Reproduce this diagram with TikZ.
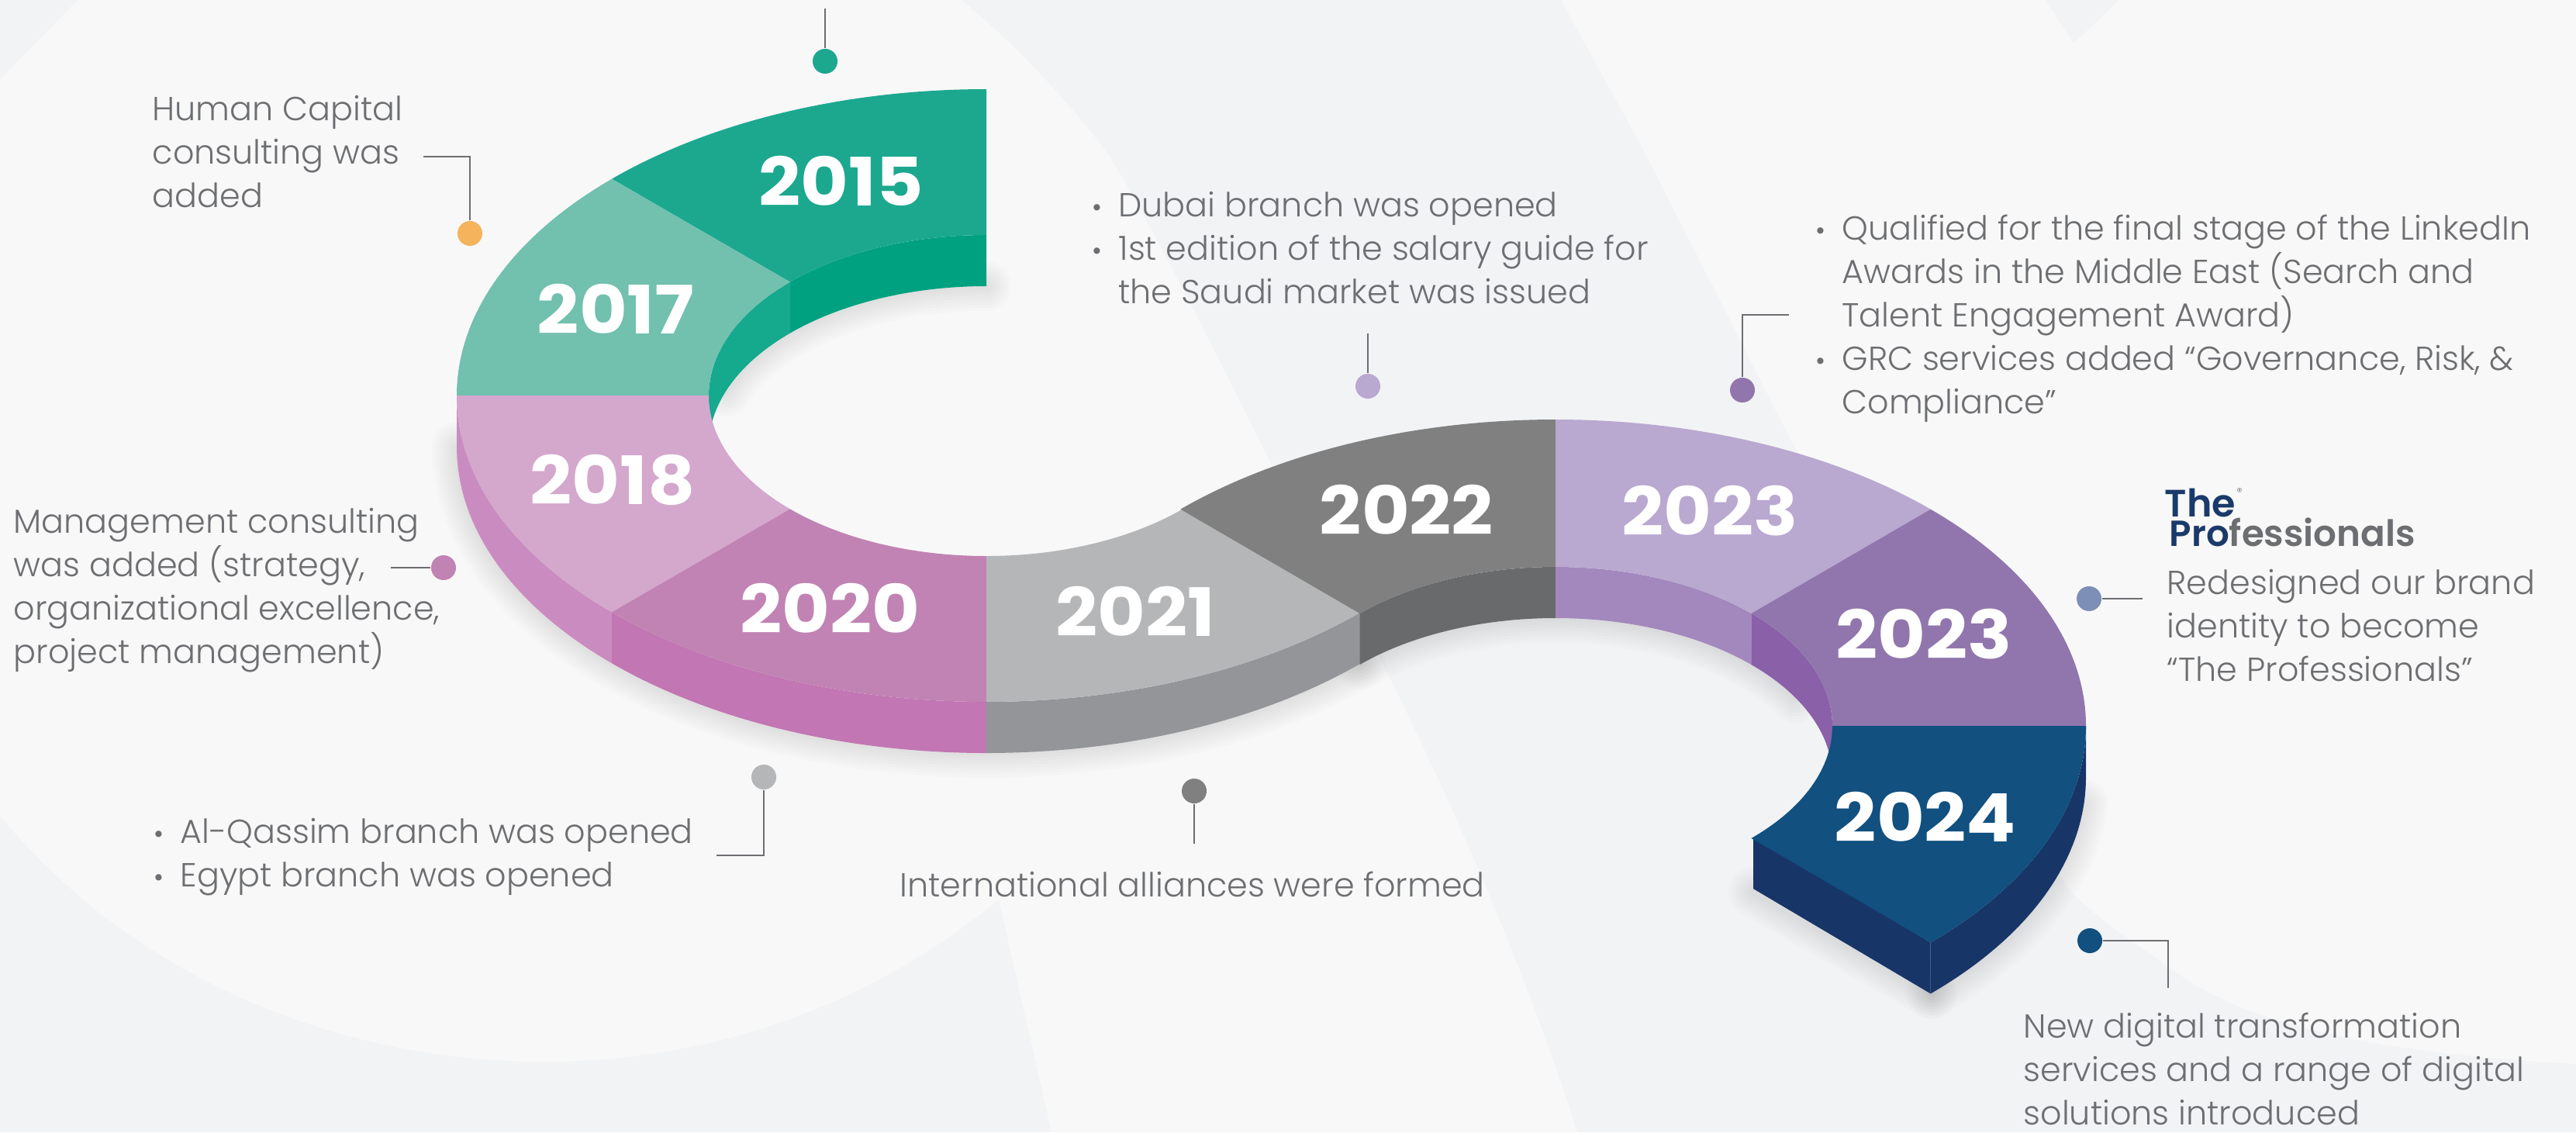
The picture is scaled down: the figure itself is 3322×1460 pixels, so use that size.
\documentclass[tikz,border=0pt]{standalone}
\usepackage{fontspec}
\setmainfont{Poppins Light}[BoldFont=Poppins Bold]
\newfontfamily\logofont{Poppins SemiBold}
\newfontfamily\yearfont{Poppins Bold}[FakeStretch=1.1]
\definecolor{bgdark}{HTML}{F2F3F5}
\definecolor{bglight}{HTML}{F8F8F8}
\definecolor{txt}{HTML}{6D6E71}
\definecolor{navy}{HTML}{1A3A6B}
\definecolor{ctA}{HTML}{1BA88F}\definecolor{cwA}{HTML}{00A180}
\definecolor{ctB}{HTML}{72C0AE}\definecolor{cwB}{HTML}{15A98E}
\definecolor{ctC}{HTML}{D4A7CD}\definecolor{cwC}{HTML}{CA8CC0}
\definecolor{ctD}{HTML}{C183B3}\definecolor{cwD}{HTML}{C276B3}
\definecolor{ctE}{HTML}{B5B6B8}\definecolor{cwE}{HTML}{939598}
\definecolor{ctF}{HTML}{808080}\definecolor{cwF}{HTML}{686A6C}
\definecolor{ctG}{HTML}{B9A8D0}\definecolor{cwG}{HTML}{A288BD}
\definecolor{ctH}{HTML}{9176AD}\definecolor{cwH}{HTML}{8A60A9}
\definecolor{ctI}{HTML}{11507F}\definecolor{cwI}{HTML}{183568}
\definecolor{dotY}{HTML}{F5B35B}
\definecolor{dotB}{HTML}{7D8FB7}
\newcommand\seg[9]{\fill[#1] ({#2+#4*cos(#6)},{#3+#5*sin(#6)}) arc[x radius=#4,y radius=#5,start angle=#6,end angle=#7] -- ({#2+#8*cos(#7)},{#3+#9*sin(#7)}) arc[x radius=#8,y radius=#9,start angle=#7,end angle=#6] -- cycle;}
\newcommand\wall[7]{\fill[#1] ({#2+#4*cos(#6)},{#3+#5*sin(#6)}) arc[x radius=#4,y radius=#5,start angle=#6,end angle=#7] -- ({#2+#4*cos(#7)},{#3+66+#5*sin(#7)}) arc[x radius=#4,y radius=#5,start angle=#7,end angle=#6] -- cycle;}
\newcommand\Ltop[3]{\seg{#1}{1272}{510}{683}{395}{#2}{#3}{358}{207}}
\newcommand\Rtop[3]{\seg{#1}{2006}{936}{684}{395}{#2}{#3}{357}{205}}
\newcommand\fs{\rule{0pt}{11.38pt}}
\newcommand\bul{\makebox[9.6pt][l]{\fontsize{10}{10}\selectfont •}}
\newcommand\ind{\hspace*{9.6pt}}
\tikzset{
 x=0.01cm,y=-0.01cm,
 year/.style={text=white,font=\yearfont\fontsize{24.5}{24.5}\selectfont,inner sep=0pt},
 note/.style={text=txt,font=\fontsize{12.2}{15.93}\selectfont,align=left,inner sep=0pt,anchor=north west},
 leader/.style={draw=txt,line width=0.8pt},
 dot/.style={circle,fill=#1,inner sep=0pt,minimum size=0.32cm},
 softshade/.style={draw=black,draw opacity=0.012,line cap=round},
}
\begin{document}
\begin{tikzpicture}
\useasboundingbox (0,0) rectangle (3322,1460);
\fill[bgdark] (0,0) rectangle (3322,1460);
% lighter background shapes
\fill[bglight] (100,0) -- (0,103) -- (0,1052)
  .. controls (180,1270) and (450,1369) .. (700,1369)
  .. controls (930,1369) and (1130,1290) .. (1288,1160)
  -- (1356,1460) -- (2034,1460) .. controls (1920,1100) and (1720,720) .. (1640,600)
  .. controls (1560,440) and (1480,280) .. (1430,200) .. controls (1370,120) and (1300,50) .. (1240,0) -- cycle;
\fill[bglight] (2013,0) -- (2638,0) -- (2674,56) -- (2733,0) -- (3322,0) -- (3322,1372)
  .. controls (3100,1360) and (2920,1330) .. (2815,1260) .. controls (2760,1220) and (2710,1190) .. (2668,1147)
  -- (2311,571) -- (2123,200) -- cycle;
% soft shadows under the ribbon
\foreach \w in {8,16,...,64}{
  \draw[softshade,line width=\w*0.01cm] ({1272+683*cos(45)},{510+66+395*sin(45)}) arc[x radius=683,y radius=395,start angle=45,end angle=180];
  \draw[softshade,line width=\w*0.01cm] ({2006+357*cos(225)},{936+66+205*sin(225)}) arc[x radius=357,y radius=205,start angle=225,end angle=330];
  \draw[softshade,line width=\w*0.01cm] ({1272+358*cos(200)},{510+66+207*sin(200)}) arc[x radius=358,y radius=207,start angle=200,end angle=270];
  \draw[softshade,line width=\w*0.01cm] (2261,1150) -- (2492,1282);
  \draw[softshade,line width=\w*0.01cm] ({2006+684*cos(45)},{936+66+395*sin(45)}) arc[x radius=684,y radius=395,start angle=45,end angle=5];
}
% inner and outer walls
\wall{cwA}{1272}{510}{358}{207}{225}{270}
\wall{cwB}{1272}{510}{358}{207}{180}{225}
\wall{cwC}{1272}{510}{683}{395}{135}{180}
\wall{cwD}{1272}{510}{683}{395}{90}{135}
\wall{cwE}{1272}{510}{683}{395}{45}{90}
\wall{cwF}{2006}{936}{357}{205}{225}{270}
\wall{cwG}{2006}{936}{357}{205}{270}{315}
\wall{cwH}{2006}{936}{357}{205}{315}{360}
\wall{cwI}{2006}{936}{684}{395}{0}{45}
\fill[cwI] (2261,1080) -- ({2006+684*cos(45)},{936+395*sin(45)}) -- ++(0,66) -- (2261,1146) -- cycle;
% top faces
\Ltop{ctA}{225}{270}
\Ltop{ctB}{180}{225}
\Ltop{ctC}{135}{180}
\Ltop{ctD}{90}{135}
\Ltop{ctE}{45}{90}
\Rtop{ctF}{225}{270}
\Rtop{ctG}{270}{315}
\Rtop{ctH}{315}{360}
\Rtop{ctI}{0}{45}
% years
\node[year] (y15) at (1085,233) {2015};
\node[year] (y17) at (794,398) {2017};
\node[year] (y18) at (790,619) {2018};
\node[year] (y20) at (1070,784) {2020};
\node[year] (y21) at (1464,788) {2021};
\node[year] (y22) at (1814,657) {2022};
\node[year] (y23a) at (2205,659) {2023};
\node[year] (y23b) at (2481,818) {2023};
\node[year] (y24) at (2483,1053) {2024};
% notes
\node[note] (nHuman) at (196,115) {\fs Human Capital\\consulting was\\added};
\node[note] (nMgmt) at (17,647) {\fs Management consulting\\was added (strategy,\\organizational excellence,\\project management)};
\node[note] (nDubai) at (1408,239) {\fs\bul Dubai branch was opened\\\bul 1st edition of the salary guide for\\\ind the Saudi market was issued};
\node[note] (nQual) at (2341,269) {\fs\bul Qualified for the final stage of the LinkedIn\\\ind Awards in the Middle East (Search and\\\ind Talent Engagement Award)\\\bul GRC services added “Governance, Risk, \&\\\ind Compliance”};
\node[note] (nRedes) at (2794,726) {\fs Redesigned our brand\\identity to become\\“The Professionals”};
\node[note] (nQassim) at (198,1047) {\fs\bul Al-Qassim branch was opened\\\bul Egypt branch was opened};
\node[note] (nIntl) at (1160,1116) {\fs International alliances were formed};
\node[note] (nDigital) at (2609,1298) {\fs New digital transformation\\services and a range of digital\\solutions introduced};
% logo
\node[inner sep=0pt,anchor=base west,text=navy,font=\logofont\fontsize{14}{14}\selectfont] (logoA) at (2791,666) {The};
\node[inner sep=0pt,anchor=center,text=txt,font=\fontsize{4}{4}\selectfont] (logoR) at (2888,635) {®};
\node[inner sep=0pt,anchor=base west,font=\logofont\fontsize{13.3}{13.3}\selectfont] (logoB) at (2797,704) {\textcolor{navy}{Pro}\textcolor{txt}{fessionals}};
% connectors
\node[dot=ctA] (d15) at (1064,79) {};
\coordinate (e15) at (1064,11);
\draw[leader] (e15) -- (d15);
\node[dot=dotY] (dHuman) at (606,301) {};
\coordinate (eHuman) at (546,202);
\draw[leader] (eHuman) -| (dHuman);
\node[dot=ctD] (dMgmt) at (572,732) {};
\coordinate (eMgmt) at (504,732);
\draw[leader] (eMgmt) -- (dMgmt);
\node[dot=ctG] (dDubai) at (1764,498) {};
\coordinate (eDubai) at (1764,430);
\draw[leader] (eDubai) -- (dDubai);
\node[dot=ctH] (dQual) at (2247,503) {};
\coordinate (eQual) at (2307,406);
\draw[leader] (eQual) -| (dQual);
\node[dot=dotB] (dRedes) at (2694,772) {};
\coordinate (eRedes) at (2763,772);
\draw[leader] (eRedes) -- (dRedes);
\node[dot=ctI] (dDigital) at (2695,1213) {};
\coordinate (eDigital) at (2796,1274);
\draw[leader] (dDigital) -| (eDigital);
\node[dot=ctE] (dQassim) at (985,1002) {};
\coordinate (eQassim) at (924,1103);
\draw[leader] (eQassim) -| (dQassim);
\node[dot=ctF] (dIntl) at (1540,1020) {};
\coordinate (eIntl) at (1540,1088);
\draw[leader] (eIntl) -- (dIntl);
\end{tikzpicture}
\end{document}
